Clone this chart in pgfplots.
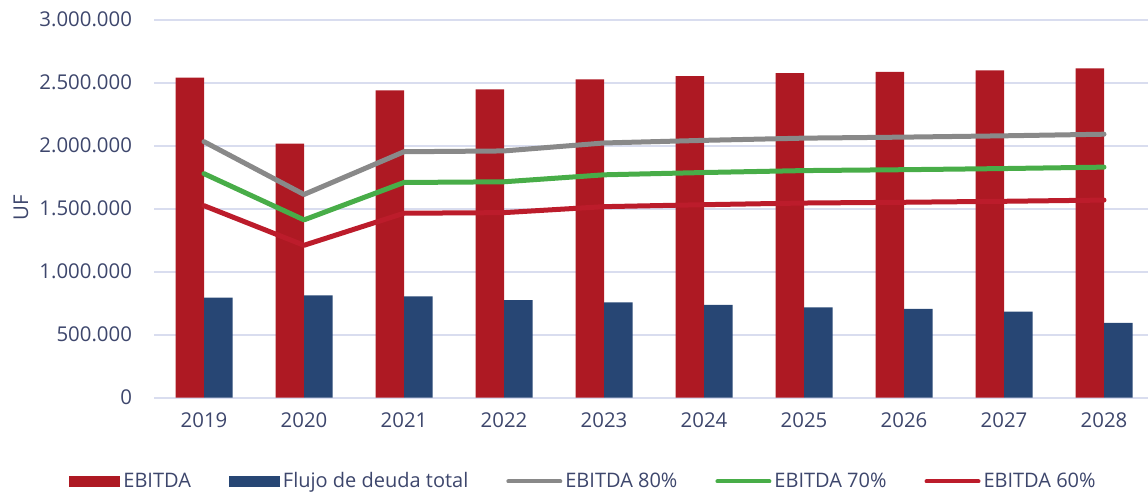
\documentclass[border=0pt]{standalone}
\usepackage{pgfplots}
\pgfplotsset{compat=1.18}
\usepackage{fontspec}
\setmainfont{Open Sans}
\definecolor{txt}{HTML}{3D466C}
\definecolor{gridc}{HTML}{D9DDEF}
\definecolor{barred}{HTML}{AE1923}
\definecolor{barblue}{HTML}{274674}
\definecolor{lgray}{HTML}{898989}
\definecolor{lgreen}{HTML}{48AD48}
\definecolor{lred}{HTML}{BC1C2B}
\begin{document}
\begin{tikzpicture}
\useasboundingbox (0,0) rectangle (574pt,246pt);
\begin{axis}[
  at={(77pt,47.15pt)}, anchor=south west,
  scale only axis, width=497pt, height=189pt,
  xmin=-0.5, xmax=9.44, ymin=0, ymax=3000000,
  clip=true,
  xtick={0,...,9},
  xticklabels={2019,2020,2021,2022,2023,2024,2025,2026,2027,2028},
  ytick={0,500000,...,3000000},
  scaled y ticks=false,
  /pgf/number format/.cd, fixed, 1000 sep={.}, assume math mode=true, /pgfplots/.cd,
  axis line style={draw=none},
  tick style={draw=none},
  ymajorgrids, grid style={gridc, line width=1pt},
  tick label style={font=\fontsize{10.2}{12}\selectfont, text=txt},
  y tick label style={xshift=-7.5pt},
  x tick label style={yshift=-4pt},
  ylabel={UF},
  ylabel style={at={(axis description cs:-0.1338,0.503)}, anchor=center, font=\fontsize{10.2}{12}\selectfont, text=txt},
  legend columns=5,
  legend style={at={(axis description cs:-0.0855,-0.2217)}, anchor=west, draw=none, fill=none,
    font=\fontsize{10}{12}\selectfont, text=txt, inner sep=0pt,
    nodes={inner sep=1.5pt},
    /tikz/every even column/.append style={column sep=17.5pt}},
  legend cell align=left,
]
\addplot[ybar, bar width=14.25pt, bar shift=-7.125pt, fill=barred, draw=none,
  legend image code/.code={\fill[barred] (0pt,-2.9pt) rectangle (25.5pt,2.9pt);}]
  coordinates {(0,2540000) (1,2016000) (2,2440000) (3,2448000) (4,2527000) (5,2553000) (6,2575000) (7,2585000) (8,2598000) (9,2614000)};
\addlegendentry{EBITDA}
\addplot[ybar, bar width=14.25pt, bar shift=7.2pt, fill=barblue, draw=none,
  legend image code/.code={\fill[barblue] (0pt,-2.9pt) rectangle (25.5pt,2.9pt);}]
  coordinates {(0,794000) (1,813000) (2,805000) (3,775000) (4,757000) (5,736000) (6,717000) (7,704000) (8,683000) (9,593000)};
\addlegendentry{Flujo de deuda total}
\addplot[lgray, line width=2.5pt, line cap=round, line join=round,
  legend image code/.code={\draw[lgray, line width=2pt, line cap=round] (1pt,0pt) -- (27pt,0pt);}]
  coordinates {(0,2032000) (1,1612800) (2,1952000) (3,1958400) (4,2021600) (5,2042400) (6,2060000) (7,2068000) (8,2078400) (9,2091200)};
\addlegendentry{EBITDA 80\%}
\addplot[lgreen, line width=2.5pt, line cap=round, line join=round,
  legend image code/.code={\draw[lgreen, line width=2pt, line cap=round] (1pt,0pt) -- (27pt,0pt);}]
  coordinates {(0,1778000) (1,1411200) (2,1708000) (3,1713600) (4,1768900) (5,1787100) (6,1802500) (7,1809500) (8,1818600) (9,1829800)};
\addlegendentry{EBITDA 70\%}
\addplot[lred, line width=2.5pt, line cap=round, line join=round,
  legend image code/.code={\draw[lred, line width=2pt, line cap=round] (1pt,0pt) -- (27pt,0pt);}]
  coordinates {(0,1524000) (1,1209600) (2,1464000) (3,1468800) (4,1516200) (5,1531800) (6,1545000) (7,1551000) (8,1558800) (9,1568400)};
\addlegendentry{EBITDA 60\%}
\end{axis}
\end{tikzpicture}
\end{document}
